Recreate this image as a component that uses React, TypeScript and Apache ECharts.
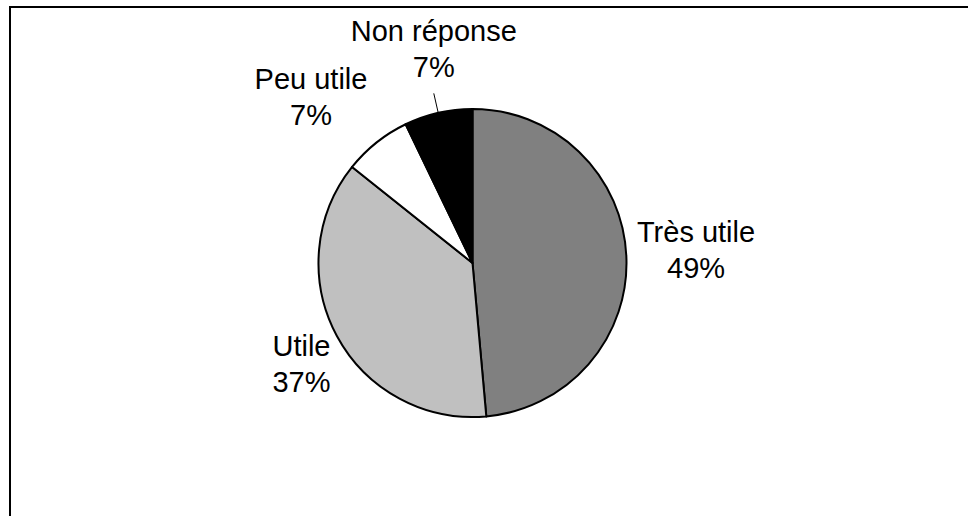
import React, { useEffect, useRef } from "react";
import * as echarts from "echarts";

const categories = ["Très utile", "Utile", "Peu utile", "Non réponse"];
const counts = [34, 26, 5, 5];
const sliceColors = ["#808080", "#C0C0C0", "#FFFFFF", "#000000"];

// label offsets (px) from the library's default anchor, per slice
const labelOffsets: [number, number][] = [
  [69.7, -5.6],
  [-35.4, 28],
  [-65.5, -45.6],
];

export default function App() {
  const ref = useRef<HTMLDivElement>(null);
  useEffect(() => {
    if (!ref.current) return;
    const chart = echarts.init(ref.current, null, { renderer: "svg" });
    const font = "'Liberation Sans', Arial, Helvetica, sans-serif";
    const data = categories.map((name, i) => {
      const item: any = {
        name,
        value: counts[i],
        itemStyle: { color: sliceColors[i] },
      };
      if (i === 3) {
        item.labelLine = {
          show: true,
          length: 20,
          length2: 0,
          lineStyle: { color: "#000", width: 1 },
        };
        item.label = { padding: [0, 0, 8, 0] };
      }
      return item;
    });
    chart.setOption({
      animation: false,
      backgroundColor: "#fff",
      graphic: [
        {
          type: "rect",
          silent: true,
          shape: { x: 10, y: 7, width: 1000, height: 600 },
          style: { fill: "none", stroke: "#000", lineWidth: 2 },
        },
      ],
      series: [
        {
          type: "pie",
          center: [472.5, 263],
          radius: 154,
          startAngle: 90,
          clockwise: true,
          avoidLabelOverlap: false,
          percentPrecision: 0,
          emphasis: { disabled: true },
          itemStyle: { borderColor: "#000", borderWidth: 2 },
          label: {
            show: true,
            position: "outside",
            overflow: "none",
            distanceToLabelLine: 0,
            formatter: "{a|{b}}\n{a|{d}%}",
            rich: {
              a: {
                fontFamily: font,
                fontSize: 29,
                lineHeight: 36,
                color: "#000",
                align: "center",
              },
            },
          },
          labelLine: { show: false, length: 0, length2: 0 },
          labelLayout: (params: any) => {
            const idx = params.dataIndex;
            if (idx === 3) {
              return { align: "center", verticalAlign: "bottom" };
            }
            const r = params.labelRect;
            const ax =
              params.align === "left"
                ? r.x
                : params.align === "right"
                ? r.x + r.width
                : r.x + r.width / 2;
            const ay = r.y + r.height / 2;
            const off = labelOffsets[idx];
            return {
              x: ax + off[0],
              y: ay + off[1],
              align: "center",
              verticalAlign: "middle",
            };
          },
          data,
        },
      ],
    });
    return () => chart.dispose();
  }, []);
  return (
    <div
      ref={ref}
      style={{
        position: "fixed",
        left: 0,
        top: 0,
        width: 968,
        height: 516,
        background: "#fff",
      }}
    />
  );
}
